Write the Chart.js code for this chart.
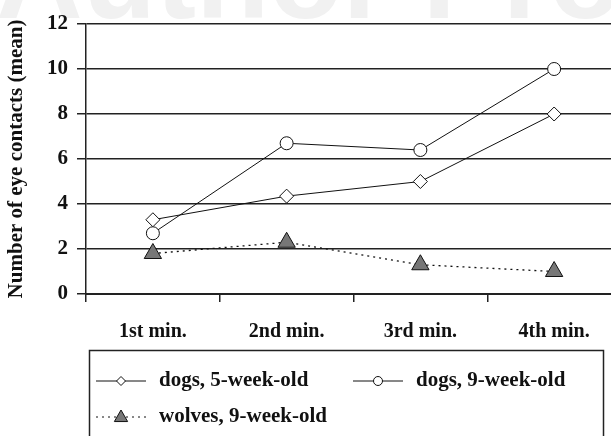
<!DOCTYPE html>
<html>
<head>
<meta charset="utf-8">
<script src="https://cdn.jsdelivr.net/npm/chart.js@4.4.1/dist/chart.umd.min.js"></script>
<style>
  html, body { margin: 0; padding: 0; background: #fff; overflow: hidden; }
  #wrap { position: relative; width: 632px; height: 436px; }
</style>
</head>
<body>
<div id="wrap"><canvas id="eyeChart" width="632" height="436"></canvas></div>
<script>
const categories = ['1st min.', '2nd min.', '3rd min.', '4th min.'];
const dogs5Week = [3.3, 4.35, 5.0, 8.0];
const dogs9Week = [2.7, 6.7, 6.4, 10.0];
const wolves9Week = [1.8, 2.3, 1.3, 1.0];
const seriesLabels = ['dogs, 5-week-old', 'dogs, 9-week-old', 'wolves, 9-week-old'];

const serif = "'Liberation Serif', 'Times New Roman', serif";

function drawMarker(ctx, style, x, y, r, fill) {
    ctx.save();
    ctx.beginPath();
    if (style === 'rectRot') {
        ctx.moveTo(x, y - r); ctx.lineTo(x + r, y); ctx.lineTo(x, y + r); ctx.lineTo(x - r, y); ctx.closePath();
    } else if (style === 'triangle') {
        ctx.moveTo(x, y - r); ctx.lineTo(x + r * 0.95, y + r * 0.65); ctx.lineTo(x - r * 0.95, y + r * 0.65); ctx.closePath();
    } else {
        ctx.arc(x, y, r, 0, Math.PI * 2);
    }
    ctx.fillStyle = fill;
    ctx.fill();
    ctx.lineWidth = 1;
    ctx.strokeStyle = '#111';
    ctx.stroke();
    ctx.restore();
}

// faint watermark behind the chart
const watermark = {
    id: 'watermark',
    beforeDraw(chart) {
        const ctx = chart.ctx;
        ctx.save();
        ctx.fillStyle = '#f1f1f1';
        ctx.font = "bold 120px 'Liberation Sans', Arial, sans-serif";
        ctx.textBaseline = 'alphabetic';
        ctx.fillText('Author Proof', -4, 18);
        ctx.restore();
    }
};

// boxed legend under the axis
const boxLegend = {
    id: 'boxLegend',
    afterDraw(chart) {
        const ctx = chart.ctx;
        ctx.save();
        ctx.strokeStyle = '#222';
        ctx.lineWidth = 1.5;
        ctx.strokeRect(89.5, 350.5, 514, 100);
        const slots = [
            { x: 96, y: 381 },
            { x: 353, y: 381 },
            { x: 96, y: 417 }
        ];
        chart.data.datasets.forEach((ds, i) => {
            const s = slots[i];
            ctx.save();
            ctx.strokeStyle = '#111';
            ctx.lineWidth = 1;
            ctx.setLineDash(ds.borderDash || []);
            ctx.beginPath();
            ctx.moveTo(s.x, s.y);
            ctx.lineTo(s.x + 50, s.y);
            ctx.stroke();
            ctx.restore();
            drawMarker(ctx, ds.pointStyle, s.x + 25, s.y, ds.pointStyle === 'triangle' ? 7 : 4.5, ds.pointBackgroundColor);
            ctx.fillStyle = '#111';
            ctx.font = 'bold 21px ' + serif;
            ctx.textBaseline = 'middle';
            ctx.fillText(ds.label, s.x + 63, s.y);
        });
        ctx.restore();
    }
};

new Chart(document.getElementById('eyeChart'), {
    type: 'line',
    data: {
        labels: categories,
        datasets: [
            { label: seriesLabels[0], data: dogs5Week, borderColor: '#111', borderWidth: 1, pointStyle: 'rectRot', pointRadius: 7, pointBackgroundColor: '#fff', pointBorderColor: '#111', pointBorderWidth: 1 },
            { label: seriesLabels[1], data: dogs9Week, borderColor: '#111', borderWidth: 1, pointStyle: 'circle', pointRadius: 6.5, pointBackgroundColor: '#fff', pointBorderColor: '#111', pointBorderWidth: 1 },
            { label: seriesLabels[2], data: wolves9Week, borderColor: '#111', borderWidth: 1.3, borderDash: [2, 4], pointStyle: 'triangle', pointRadius: 10, pointBackgroundColor: '#777', pointBorderColor: '#111', pointBorderWidth: 1 }
        ]
    },
    options: {
        responsive: false,
        animation: false,
        layout: { padding: { top: 24, right: 0, bottom: 97, left: 0 } },
        scales: {
            x: {
                offset: true,
                grid: { offset: true, drawOnChartArea: false, color: '#222', tickLength: 8, lineWidth: 1.5 },
                border: { color: '#222', width: 2 },
                ticks: { color: '#111', padding: 18, font: { family: serif, size: 20, weight: 'bold' } },
                afterFit(scale) { scale.height = 45; }
            },
            y: {
                min: 0, max: 12,
                ticks: { stepSize: 2, color: '#111', padding: 9, font: { family: serif, size: 21, weight: 'bold' } },
                grid: { color: '#222', lineWidth: 1.5, tickLength: 9 },
                border: { color: '#222', width: 1.5 },
                title: { display: true, text: 'Number of eye contacts (mean)', color: '#111', padding: { top: 4, bottom: 0 }, font: { family: serif, size: 21, weight: 'bold' } },
                afterFit(scale) { scale.width = 86; }
            }
        },
        plugins: { legend: { display: false }, tooltip: { enabled: false } }
    },
    plugins: [watermark, boxLegend]
});
</script>
</body>
</html>
